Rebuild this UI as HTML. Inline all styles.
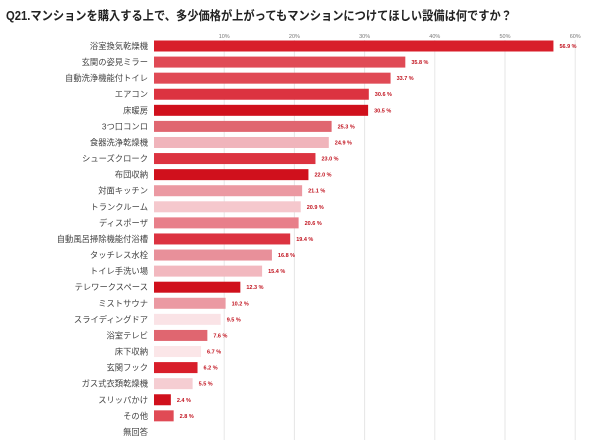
<!DOCTYPE html>
<html><head><meta charset="utf-8"><style>
body{margin:0;background:#fff;}
svg{display:block;font-family:"Liberation Sans","Noto Sans CJK JP",sans-serif;}
</style></head><body>
<svg width="600" height="448">
<text x="6" y="20" font-size="12.5" font-weight="bold" fill="#222" textLength="506" lengthAdjust="spacingAndGlyphs">Q21.マンションを購入する上で、多少価格が上がってもマンションにつけてほしい設備は何ですか？</text>
<g id="grid"></g><g id="bars"></g>
</svg>
<script>
const categories=["浴室換気乾燥機","玄関の姿見ミラー","自動洗浄機能付トイレ","エアコン","床暖房","3つ口コンロ","食器洗浄乾燥機","シューズクローク","布団収納","対面キッチン","トランクルーム","ディスポーザ","自動風呂掃除機能付浴槽","タッチレス水栓","トイレ手洗い場","テレワークスペース","ミストサウナ","スライディングドア","浴室テレビ","床下収納","玄関フック","ガス式衣類乾燥機","スリッパかけ","その他","無回答"];
const values=[56.9,35.8,33.7,30.6,30.5,25.3,24.9,23.0,22.0,21.1,20.9,20.6,19.4,16.8,15.4,12.3,10.2,9.5,7.6,6.7,6.2,5.5,2.4,2.8,0];
const ticks=[10,20,30,40,50,60];
const colors=["#d81e2a","#e04a55","#e04a55","#dc3340","#d0101c","#e06670","#f0b4bb","#dc3340","#d0101c","#eb99a2","#f5c8cd","#e87f8a","#dc3340","#e8909a","#f2b8bf","#d0101c","#eb99a2","#fae3e6","#e06670","#fbe6e8","#d81e2a","#f5cdd2","#d0101c","#e04a55","#fff"];
const NS="http://www.w3.org/2000/svg";
const x=v=>154+v*7.02;
const y=i=>46+i*16.08;
const g=document.getElementById('grid'),b=document.getElementById('bars');
function mk(p,t,a){const e=document.createElementNS(NS,t);for(const k in a)e.setAttribute(k,a[k]);p.appendChild(e);return e;}
ticks.forEach(t=>{
 const l=mk(g,'line',{x1:x(t),x2:x(t),y1:40,y2:440,stroke:'#e6e6e6','stroke-width':1});
 
 
 const tx=mk(g,'text',{x:x(t),y:38,'font-size':5.5,fill:'#777','text-anchor':'middle'});
 tx.textContent=t+'%';
 
 
});
categories.forEach((c,i)=>{
 const cy=y(i);
 const lb=mk(b,'text',{x:148,y:cy+3,'font-size':8.3,fill:'#444','text-anchor':'end'});
 lb.textContent=c;
 
 
 if(values[i]>0){
  const r=mk(b,'rect',{x:x(0),y:cy-5.5,width:x(values[i])-x(0),height:11,fill:colors[i]});
  
  
  const v=mk(b,'text',{x:x(values[i])+6,y:cy+2,'font-size':5.5,'font-weight':'bold',fill:'#c0101c'});
  v.textContent=values[i].toFixed(1)+' %';
  
  
 }
});
</script>
</body></html>
